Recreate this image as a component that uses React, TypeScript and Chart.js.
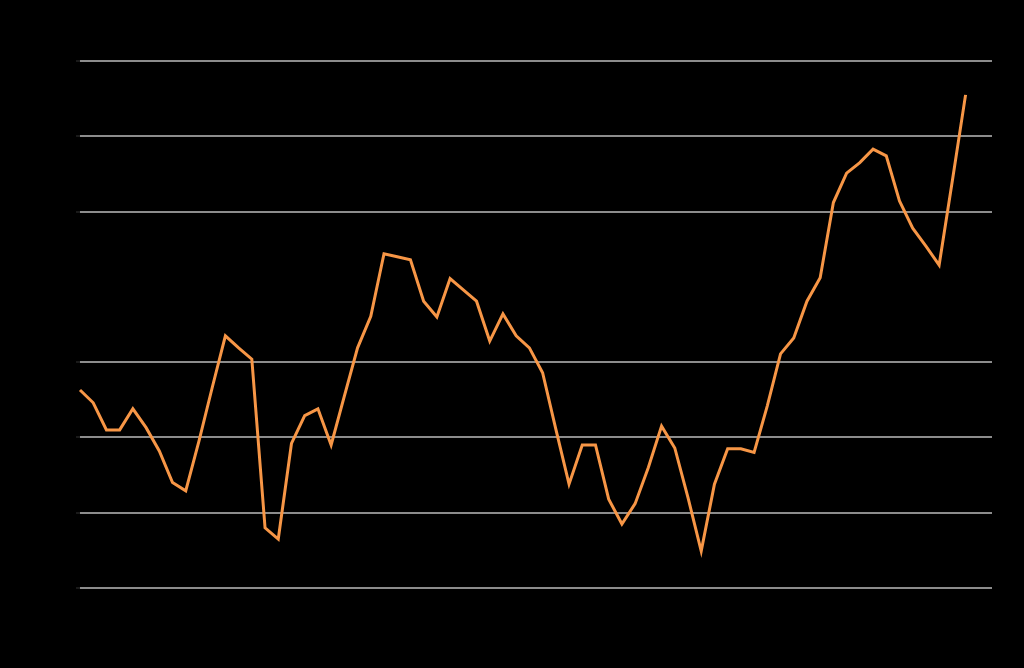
import React, { useEffect, useRef } from "react";
import { Chart, registerables } from "chart.js";

Chart.register(...registerables);

const categories: string[] = Array.from({ length: 70 }, (_, i) => String(i + 1));

const seriesValues: (number | null)[] = [
  -1.37, -1.54, -1.9, -1.9, -1.62, -1.87, -2.18, -2.6, -2.71, -2.05,
  -1.34, -0.65, -0.81, -0.96, -3.2, -3.35, -2.08, -1.71, -1.62, -2.1,
  -1.45, -0.81, -0.39, 0.44, 0.4, 0.36, -0.19, -0.4, 0.11, -0.04,
  -0.19, -0.72, -0.36, -0.65, -0.81, -1.14, -1.89, -2.62, -2.1, -2.1,
  -2.82, -3.15, -2.88, -2.4, -1.85, -2.14, -2.8, -3.51, -2.62, -2.15,
  -2.15, -2.2, -1.58, -0.89, -0.68, -0.19, 0.12, 1.12, 1.51, 1.65,
  1.83, 1.74, 1.14, 0.78, 0.54, 0.29, 1.41, 2.55, null, null,
];

const yMin = -4;
const yMax = 3;
const yStep = 1;

export default function App() {
  const canvasRef = useRef<HTMLCanvasElement | null>(null);

  useEffect(() => {
    document.body.style.margin = "0";
    document.body.style.background = "#000";
    const canvas = canvasRef.current;
    if (!canvas) return;
    const chart = new Chart(canvas, {
      type: "line",
      data: {
        labels: categories,
        datasets: [
          {
            data: seriesValues,
            borderColor: "#F79646",
            borderWidth: 3,
            pointRadius: 0,
            tension: 0,
            fill: false,
          },
        ],
      },
      options: {
        animation: false,
        responsive: false,
        layout: { padding: { top: 61, right: 32, left: 0, bottom: 0 } },
        plugins: { legend: { display: false }, tooltip: { enabled: false } },
        scales: {
          x: {
            grid: { display: false },
            border: { display: false },
            ticks: { color: "#000", maxRotation: 0, autoSkip: true },
            afterFit: (scale: any) => {
              scale.height = 80;
            },
          },
          y: {
            min: yMin,
            max: yMax,
            ticks: { stepSize: yStep, color: "#000", font: { size: 14 } },
            border: { display: false },
            grid: {
              color: (ctx: any) => (ctx.tick && ctx.tick.value === 0 ? "#000" : "#8c8c8c"),
              lineWidth: 2,
              tickColor: (ctx: any) => (ctx.tick && ctx.tick.value === 0 ? "#000" : "#1a1a1a"),
              tickLength: 4,
            },
            afterFit: (scale: any) => {
              scale.width = 80;
            },
          },
        },
      },
    });
    return () => chart.destroy();
  }, []);

  return (
    <div style={{ width: 1024, height: 668, background: "#000" }}>
      <canvas ref={canvasRef} width={1024} height={668} style={{ display: "block" }} />
    </div>
  );
}
